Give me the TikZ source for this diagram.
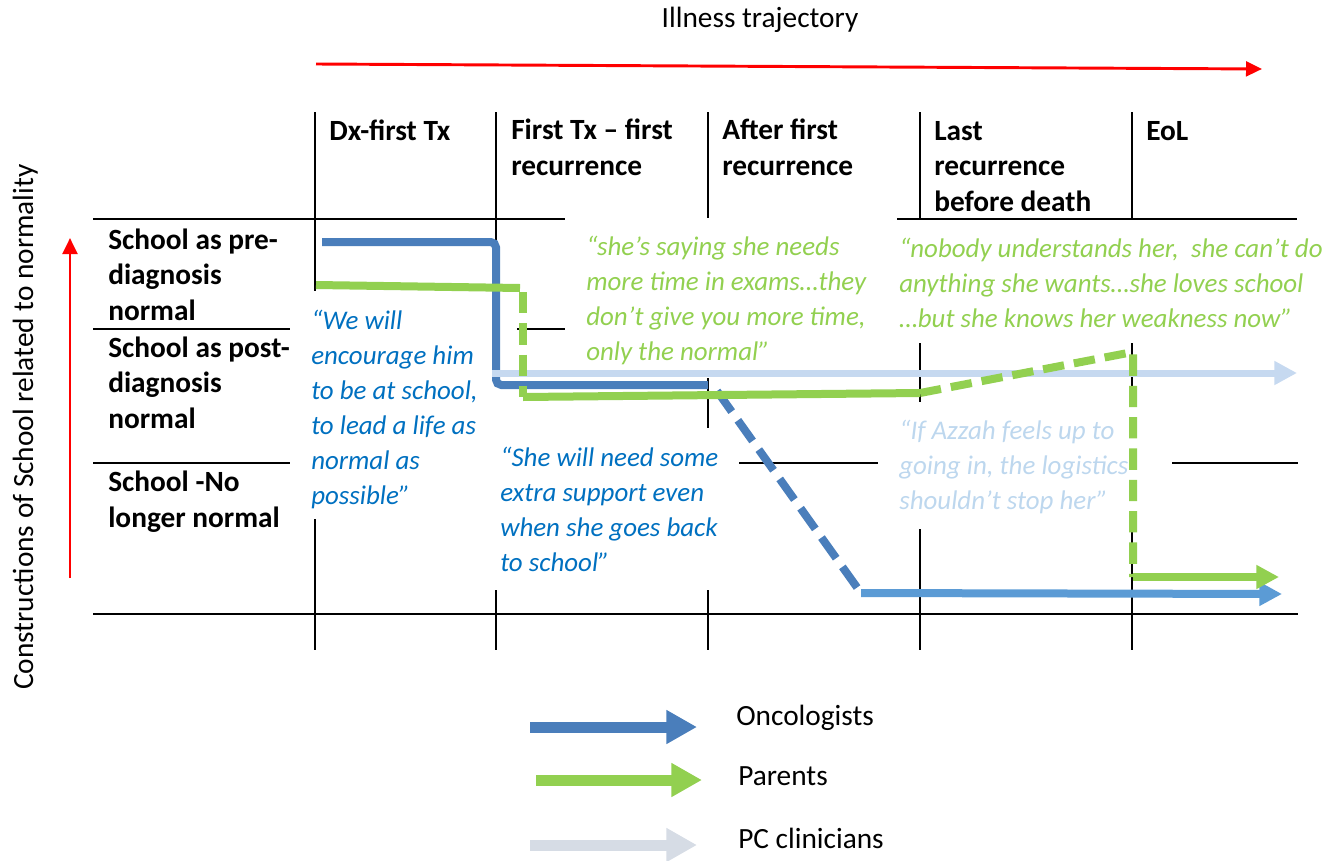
\documentclass[tikz,border=0pt]{standalone}
\usepackage{fontspec}
\setmainfont{Carlito}
\usetikzlibrary{arrows.meta}
\definecolor{onco}{RGB}{74,126,187}
\definecolor{oncolight}{RGB}{91,155,213}
\definecolor{parent}{RGB}{146,208,80}
\definecolor{pcline}{RGB}{198,217,240}
\definecolor{pclegend}{RGB}{214,220,229}
\definecolor{quoteblue}{RGB}{0,112,192}
\definecolor{quotepale}{RGB}{189,215,238}
\begin{document}
% Multi-line nodes are placed by the baseline of their last line.
\begin{tikzpicture}[x=0.75pt,y=-0.75pt,
  gridline/.style={line width=1.8pt,black},
  txt/.style={inner sep=0pt,anchor=base west,align=left},
  head/.style={txt,font=\fontsize{22pt}{26.6pt}\selectfont\bfseries},
  quote/.style={txt,font=\fontsize{20.2pt}{26.25pt}\selectfont\itshape},
  plain/.style={inner sep=0pt,font=\fontsize{22pt}{26pt}\selectfont},
  series/.style={line width=6pt},
  tip/.style={-{Triangle[length=17pt,width=17pt]}},
  legendarrow/.style={line width=8.25pt,-{Triangle[length=23pt,width=24pt]}},
  redarrow/.style={red,line width=2.2pt,-{Triangle[length=12pt,width=11pt]}}]
\useasboundingbox (0,0) rectangle (1330,860);

% ---- axes ----
\coordinate (tA) at (316,64);  \coordinate (tB) at (1262,69);
\draw[redarrow] (tA) -- (tB);
\coordinate (vA) at (70,578); \coordinate (vB) at (70,238);
\draw[redarrow] (vA) -- (vB);
\node[plain,anchor=base] (title) at (760,27) {Illness trajectory};
\node[plain,anchor=base west,rotate=90] (ylab) at (33,690)
  {Constructions of School related to normality};

% ---- grid ----
\draw[gridline] (315,112) -- (315,291) (315,519) -- (315,650);
\draw[gridline] (496,112) -- (496,242) (496,590) -- (496,650);
\draw[gridline] (708,112) -- (708,218) (708,378) -- (708,428) (708,590) -- (708,650);
\draw[gridline] (920,112) -- (920,218) (920,343) -- (920,402) (920,529) -- (920,650);
\draw[gridline] (1132,112) -- (1132,218) (1132,343) -- (1132,402) (1132,529) -- (1132,650);
\draw[gridline] (93,219) -- (565,219) (897,219) -- (1297,219);
\draw[gridline] (93,329) -- (290,329) (517,329) -- (565,329);
\draw[gridline] (93,463) -- (290,463) (739,463) -- (878,463) (1172,463) -- (1298,463);
\draw[gridline] (93,614) -- (1298,614);

% ---- column headings ----
\node[head] (c1) at (329,140) {Dx-first Tx};
\node[head] (c2) at (511,175) {First Tx – first\\recurrence};
\node[head] (c3) at (722,175) {After first\\recurrence};
\node[head] (c4) at (934,211) {Last\\recurrence\\before death};
\node[head] (c5) at (1146,140) {EoL};

% ---- row headings ----
\node[head] (r1) at (108,320) {School as pre-\\diagnosis\\normal};
\node[head] (r2) at (108,428) {School as post-\\diagnosis\\normal};
\node[head] (r3) at (108,527) {School -No\\longer normal};

% ---- oncologists ----
\coordinate (o1) at (322,242); \coordinate (o2) at (496,242);
\coordinate (o3) at (496,385); \coordinate (o4) at (708,385);
\coordinate (o5) at (717,391); \coordinate (o6) at (861,593);
\coordinate (o7) at (1282,594);
\draw[series,onco,rounded corners=4pt] (o1) -- (o2) -- (o3) -- (o4);
\draw[series,onco,dash pattern=on 19pt off 8pt] (o5) -- (o6);
\draw[series,oncolight,tip] (o6) -- (o7);

% ---- PC clinicians ----
\coordinate (p1) at (492,373); \coordinate (p2) at (1297,373);
\draw[line width=5.25pt,pcline,tip] (p1) -- (p2);

% ---- parents ----
\coordinate (g1) at (316,285); \coordinate (g2) at (520,288);
\coordinate (g3) at (523,292); \coordinate (g4) at (523,397);
\coordinate (g5) at (920,393); \coordinate (g6) at (1133,352);
\coordinate (g7) at (1133,577); \coordinate (g8) at (1279,577);
\draw[series,parent] (g1) -- (g2);
\draw[series,parent,dash pattern=on 16pt off 7.5pt] (g3) -- (g4);
\draw[series,parent] (g4) -- (g5);
\draw[series,parent,dash pattern=on 16pt off 7.5pt] (g5) -- (g6) -- (g7);
\draw[series,parent,tip] (g7) -- (g8);

% ---- quotations ----
\node[quote,quoteblue] (q1) at (311,504)
  {“We will\\encourage him\\to be at school,\\to lead a life as\\normal as\\possible”};
\node[quote,quoteblue] (q2) at (500,571)
  {“She will need some\\extra support even\\when she goes back\\to school”};
\node[quote,parent] (q3) at (586,360)
  {“she’s saying she needs\\more time in exams…they\\don’t give you more time,\\only the normal”};
\node[quote,parent] (q4) at (899,327)
  {“nobody understands her,\ \ she can’t do\\anything she wants…she loves school\\…but she knows her weakness now”};
\node[quote,quotepale] (q5) at (899,509)
  {“If Azzah feels up to\\going in, the logistics\\shouldn’t stop her”};

% ---- legend ----
\coordinate (l1a) at (530,727); \coordinate (l1b) at (697,727);
\coordinate (l2a) at (536,780); \coordinate (l2b) at (702,780);
\coordinate (l3a) at (530,845); \coordinate (l3b) at (697,845);
\draw[legendarrow,onco] (l1a) -- (l1b);
\draw[legendarrow,parent] (l2a) -- (l2b);
\draw[legendarrow,pclegend] (l3a) -- (l3b);
\node[plain,anchor=base west] (k1) at (736,725) {Oncologists};
\node[plain,anchor=base west] (k2) at (738,785) {Parents};
\node[plain,anchor=base west] (k3) at (738,848) {PC clinicians};
\end{tikzpicture}
\end{document}
